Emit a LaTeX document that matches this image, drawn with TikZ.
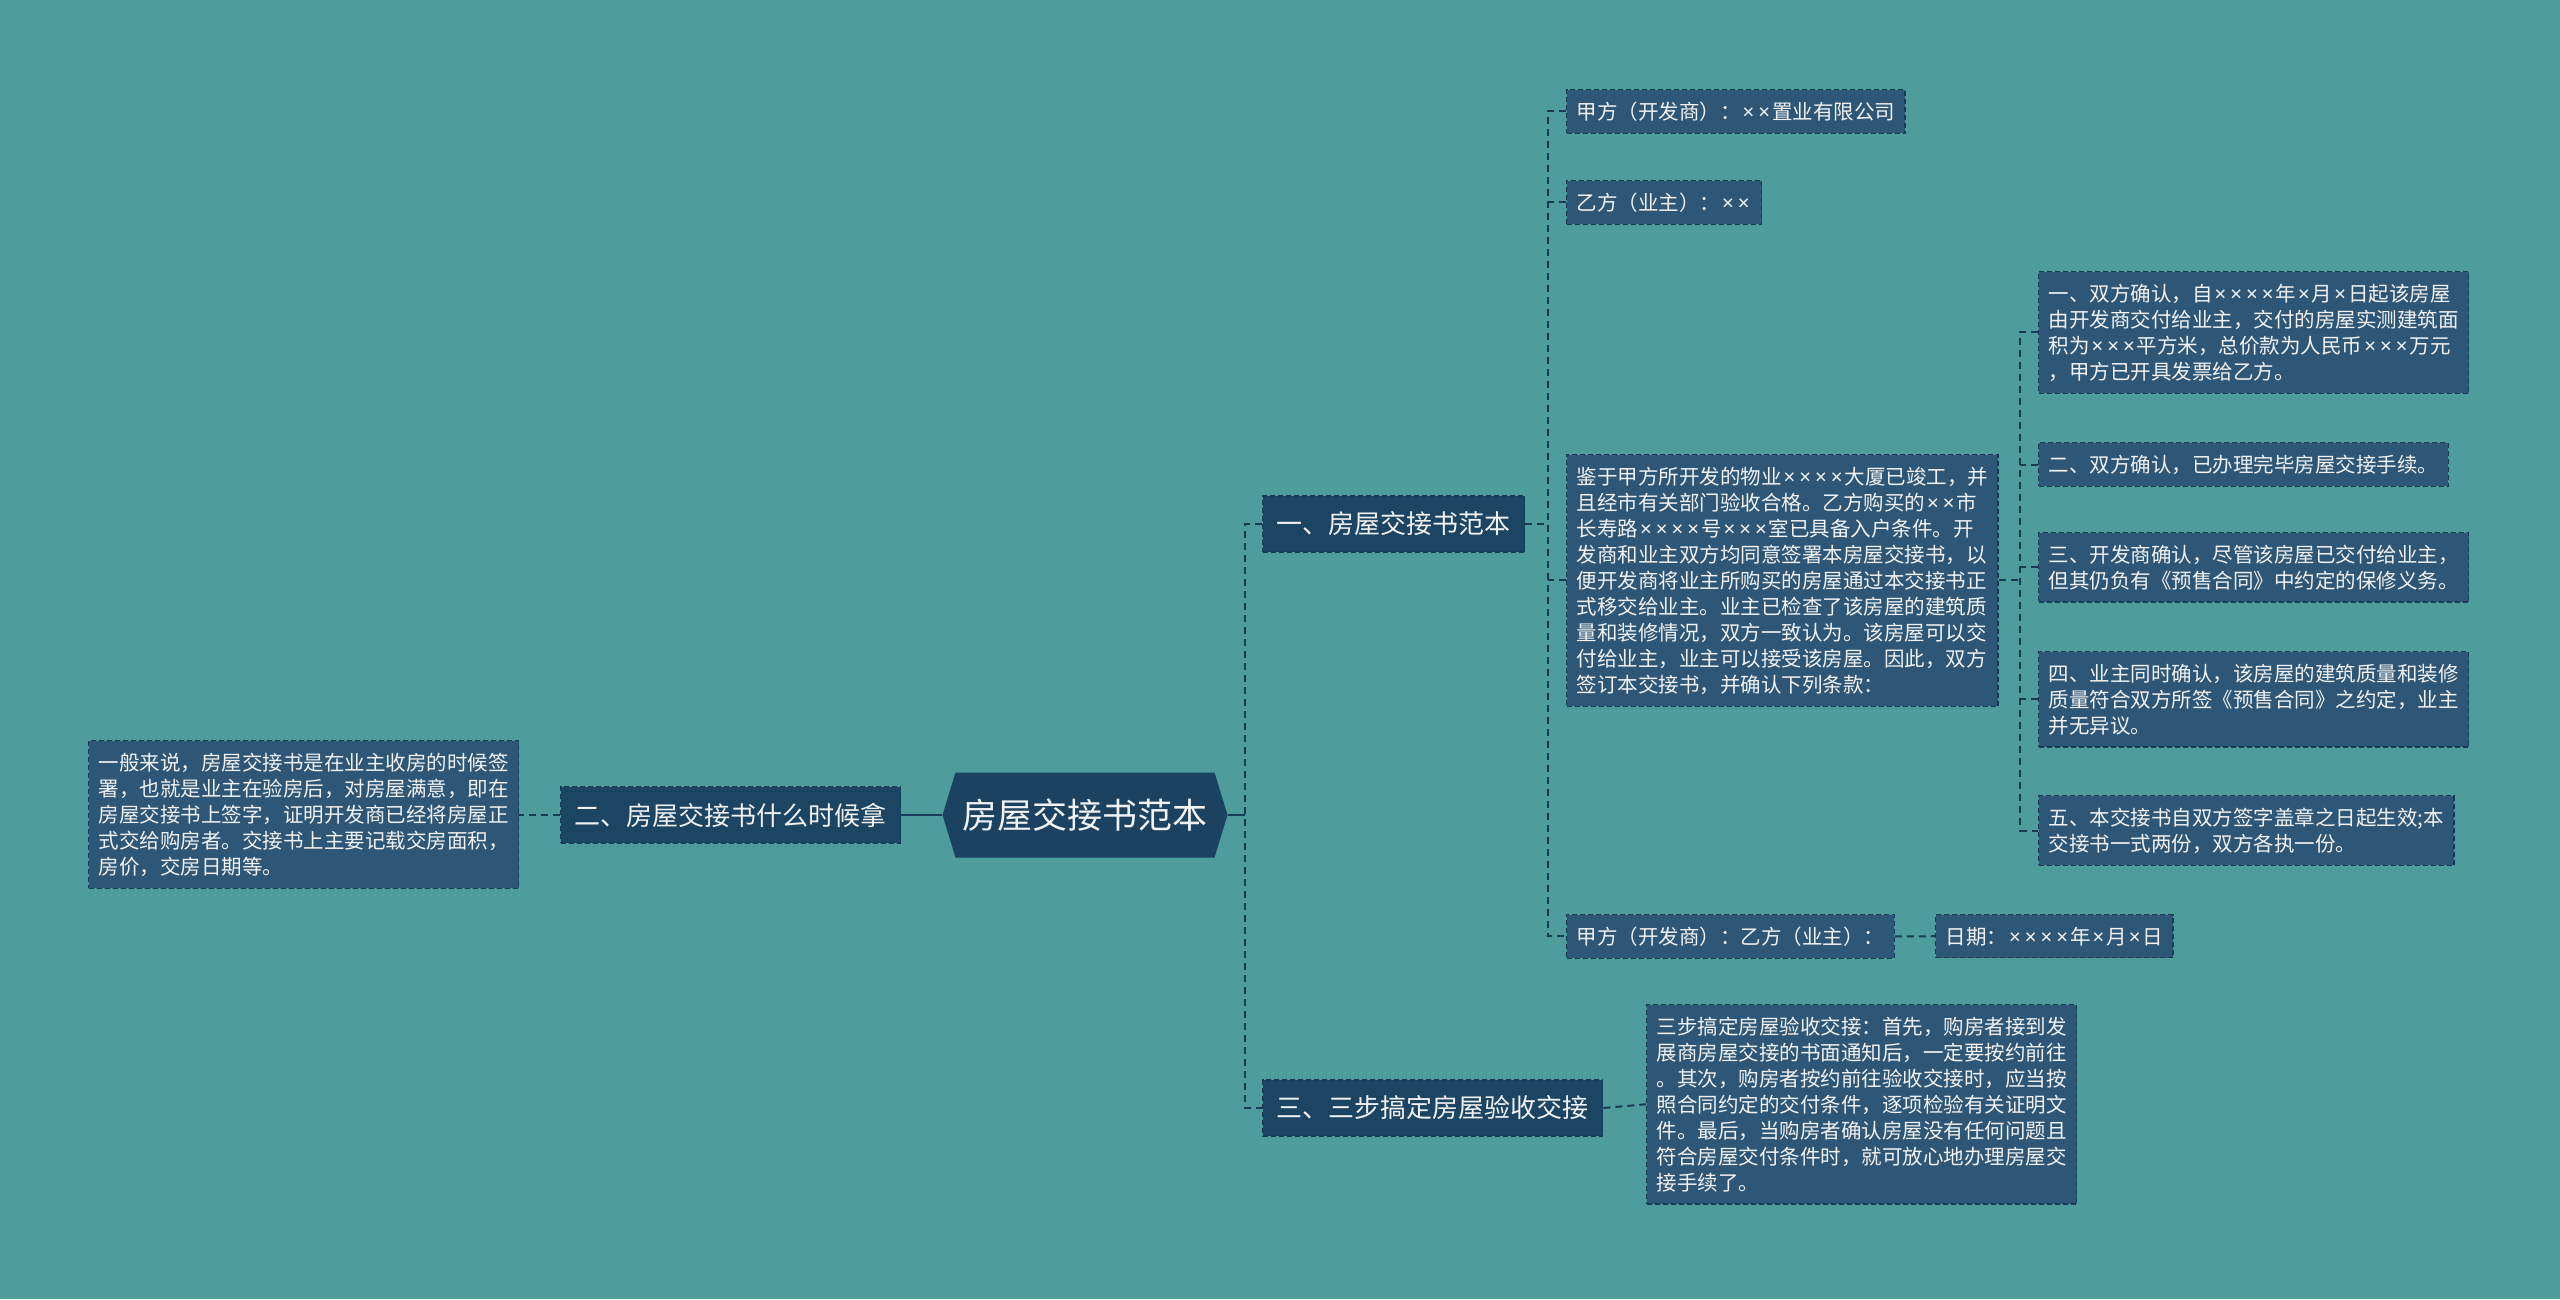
\documentclass[tikz,border=0pt]{standalone}
\usepackage{fontspec}
\setmainfont{Noto Sans CJK SC}
\newfontfamily\latinfont{Noto Sans}
\newcommand\tms{{\kern2pt\latinfont ×\kern2pt}}
\usetikzlibrary{shapes.symbols}
\definecolor{bgteal}{HTML}{4E9C9B}
\definecolor{leafblue}{HTML}{2E5777}
\definecolor{branchblue}{HTML}{1C4563}
\definecolor{rootblue}{HTML}{1B4261}
\definecolor{linenavy}{HTML}{173B57}

\begin{document}
\begin{tikzpicture}[x=1pt,y=-1pt,
  every node/.style={text=white!95!black,inner sep=0pt},
  leaf/.style={draw=linenavy,fill=leafblue,line width=1.4pt,dash pattern=on 5pt off 3pt,
    align=left,anchor=north west,inner xsep=10pt,inner ysep=12pt,
    font=\fontsize{20.5pt}{26pt}\selectfont},
  branch/.style={draw=linenavy,fill=branchblue,line width=1.4pt,dash pattern=on 5pt off 3pt,
    anchor=west,inner xsep=14pt,inner ysep=16pt,font=\fontsize{26pt}{31pt}\selectfont},
  rootnode/.style={shape=signal,signal to=east and west,signal pointer angle=146,
    fill=rootblue,minimum width=285pt,minimum height=85pt,font=\fontsize{35pt}{40pt}\selectfont},
  link/.style={draw=linenavy,line width=2pt,dash pattern=on 7pt off 5pt},
  stem/.style={draw=linenavy,line width=2.5pt}]

\fill[bgteal] (0,0) rectangle (2560,1299);
\useasboundingbox (0,0) rectangle (2560,1299);

\node[rootnode] (root) at (1085,815) {房屋交接书范本};

\node[branch] (b1) at (1262,524) {一、房屋交接书范本};
\node[branch] (b2) at (560,815) {二、房屋交接书什么时候拿};
\node[branch] (b3) at (1262,1108) {三、三步搞定房屋验收交接};

\node[leaf] (lf) at (88,740) {一般来说，房屋交接书是在业主收房的时候签\\署，也就是业主在验房后，对房屋满意，即在\\房屋交接书上签字，证明开发商已经将房屋正\\式交给购房者。交接书上主要记载交房面积，\\房价，交房日期等。};

\node[leaf] (a1) at (1566,89) {甲方（开发商）：\tms{}\tms{}置业有限公司};
\node[leaf] (a2) at (1566,180) {乙方（业主）：\tms{}\tms{}};
\node[leaf] (a3) at (1566,454) {鉴于甲方所开发的物业\tms{}\tms{}\tms{}\tms{}大厦已竣工，并\\且经市有关部门验收合格。乙方购买的\tms{}\tms{}市\\长寿路\tms{}\tms{}\tms{}\tms{}号\tms{}\tms{}\tms{}室已具备入户条件。开\\发商和业主双方均同意签署本房屋交接书，以\\便开发商将业主所购买的房屋通过本交接书正\\式移交给业主。业主已检查了该房屋的建筑质\\量和装修情况，双方一致认为。该房屋可以交\\付给业主，业主可以接受该房屋。因此，双方\\签订本交接书，并确认下列条款：};
\node[leaf] (a4) at (1566,914) {甲方（开发商）：乙方（业主）：};
\node[leaf] (a5) at (1935,914) {日期：\tms{}\tms{}\tms{}\tms{}年\tms{}月\tms{}日};

\node[leaf] (c1) at (2038,271) {一、双方确认，自\tms{}\tms{}\tms{}\tms{}年\tms{}月\tms{}日起该房屋\\由开发商交付给业主，交付的房屋实测建筑面\\积为\tms{}\tms{}\tms{}平方米，总价款为人民币\tms{}\tms{}\tms{}万元\\，甲方已开具发票给乙方。};
\node[leaf] (c2) at (2038,442) {二、双方确认，已办理完毕房屋交接手续。};
\node[leaf] (c3) at (2038,532) {三、开发商确认，尽管该房屋已交付给业主，\\但其仍负有《预售合同》中约定的保修义务。};
\node[leaf] (c4) at (2038,651) {四、业主同时确认，该房屋的建筑质量和装修\\质量符合双方所签《预售合同》之约定，业主\\并无异议。};
\node[leaf] (c5) at (2038,795) {五、本交接书自双方签字盖章之日起生效;本\\交接书一式两份，双方各执一份。};

\node[leaf] (d1) at (1646,1004) {三步搞定房屋验收交接：首先，购房者接到发\\展商房屋交接的书面通知后，一定要按约前往\\。其次，购房者按约前往验收交接时，应当按\\照合同约定的交付条件，逐项检验有关证明文\\件。最后，当购房者确认房屋没有任何问题且\\符合房屋交付条件时，就可放心地办理房屋交\\接手续了。};

\coordinate (r1) at (1245,0);
\coordinate (r2) at (1548,0);
\coordinate (r3) at (2020,0);

\draw[stem] (root.east) -- (root.east -| r1);
\draw[link] (b1.west) -- (b1.west -| r1) -- (b3.west -| r1) -- (b3.west);
\draw[stem] (root.west) -- (b2.east);
\draw[link] (b2.west) -- (b2.west -| lf.east);

\draw[link] (b1.east) -- (b1.east -| r2);
\draw[link] (a1.west) -- (a1.west -| r2) -- (a4.west -| r2) -- (a4.west);
\foreach \n in {a2,a3}
  \draw[link] (\n.west) -- (\n.west -| r2);
\draw[link] (a4.east) -- (a5.west);

\draw[link] (a3.east) -- (a3.east -| r3);
\draw[link] (c1.west) -- (c1.west -| r3) -- (c5.west -| r3) -- (c5.west);
\foreach \n in {c2,c3,c4}
  \draw[link] (\n.west) -- (\n.west -| r3);

\draw[link] (b3.east) -- (d1.west);

\end{tikzpicture}
\end{document}
